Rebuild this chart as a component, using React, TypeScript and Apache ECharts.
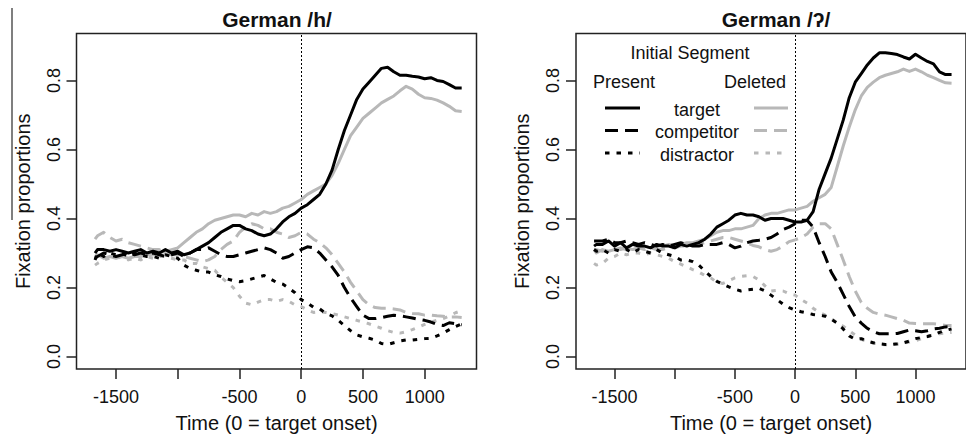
import React, { useEffect, useRef } from "react";
import * as echarts from "echarts";

// time points (ms, 0 = target onset)
const times = [
  -1670, -1650, -1600, -1550, -1500, -1450, -1400, -1350, -1300, -1250,
  -1200, -1150, -1100, -1050, -1000, -950, -900, -850, -800, -750,
  -700, -650, -600, -550, -500, -450, -400, -350, -300, -250,
  -200, -150, -100, -50, 0, 50, 100, 150, 200, 250,
  300, 350, 400, 450, 500, 550, 600, 650, 700, 750,
  800, 850, 900, 950, 1000, 1050, 1100, 1150, 1200, 1250,
  1300,
];

// German /h/ panel
const hTargetPresent = [
  0.30, 0.31, 0.31, 0.305, 0.31, 0.305, 0.30, 0.305, 0.31, 0.30,
  0.305, 0.30, 0.31, 0.30, 0.305, 0.295, 0.30, 0.31, 0.32, 0.33,
  0.345, 0.36, 0.37, 0.38, 0.38, 0.37, 0.365, 0.355, 0.35, 0.355,
  0.37, 0.39, 0.405, 0.415, 0.43, 0.44, 0.455, 0.47, 0.50, 0.54,
  0.60, 0.655, 0.70, 0.745, 0.775, 0.795, 0.815, 0.835, 0.838, 0.825,
  0.815, 0.815, 0.812, 0.81, 0.805, 0.808, 0.80, 0.797, 0.788, 0.778,
  0.778,
];
const hTargetDeleted = [
  0.29, 0.295, 0.285, 0.29, 0.285, 0.29, 0.285, 0.29, 0.29, 0.295,
  0.295, 0.30, 0.305, 0.31, 0.315, 0.33, 0.345, 0.36, 0.37, 0.385,
  0.395, 0.40, 0.405, 0.41, 0.41, 0.405, 0.415, 0.41, 0.42, 0.415,
  0.42, 0.43, 0.435, 0.445, 0.455, 0.47, 0.48, 0.49, 0.50, 0.525,
  0.56, 0.60, 0.64, 0.665, 0.69, 0.705, 0.72, 0.735, 0.745, 0.755,
  0.77, 0.783, 0.775, 0.76, 0.75, 0.748, 0.743, 0.735, 0.725, 0.712,
  0.71,
];
const hCompetitorPresent = [
  0.285, 0.29, 0.30, 0.295, 0.29, 0.295, 0.30, 0.295, 0.30, 0.295,
  0.30, 0.295, 0.29, 0.295, 0.30, 0.29, 0.30, 0.31, 0.31, 0.315,
  0.305, 0.295, 0.29, 0.29, 0.295, 0.30, 0.305, 0.31, 0.315, 0.31,
  0.30, 0.285, 0.29, 0.30, 0.31, 0.318, 0.315, 0.30, 0.28, 0.26,
  0.235, 0.20, 0.17, 0.145, 0.12, 0.11, 0.11, 0.113, 0.117, 0.12,
  0.118, 0.115, 0.112, 0.108, 0.105, 0.10, 0.093, 0.09, 0.098, 0.095,
  0.092,
];
const hCompetitorDeleted = [
  0.34, 0.35, 0.36, 0.345, 0.335, 0.34, 0.33, 0.325, 0.32, 0.315,
  0.31, 0.31, 0.30, 0.295, 0.295, 0.29, 0.285, 0.28, 0.275, 0.28,
  0.29, 0.31, 0.325, 0.335, 0.36, 0.375, 0.385, 0.38, 0.37, 0.37,
  0.36, 0.355, 0.345, 0.35, 0.36, 0.355, 0.34, 0.33, 0.315, 0.295,
  0.27, 0.245, 0.215, 0.19, 0.165, 0.15, 0.142, 0.14, 0.14, 0.138,
  0.135, 0.128, 0.125, 0.124, 0.12, 0.12, 0.118, 0.117, 0.115, 0.115,
  0.113,
];
const hDistractorPresent = [
  0.28, 0.30, 0.29, 0.30, 0.295, 0.30, 0.29, 0.30, 0.295, 0.29,
  0.29, 0.285, 0.295, 0.29, 0.285, 0.265, 0.255, 0.25, 0.245, 0.245,
  0.237, 0.232, 0.225, 0.22, 0.217, 0.22, 0.225, 0.23, 0.235, 0.225,
  0.215, 0.21, 0.198, 0.185, 0.165, 0.155, 0.143, 0.138, 0.125, 0.118,
  0.105, 0.09, 0.075, 0.063, 0.057, 0.053, 0.048, 0.038, 0.035, 0.04,
  0.045, 0.048, 0.048, 0.05, 0.052, 0.053, 0.06, 0.068, 0.078, 0.087,
  0.095,
];
const hDistractorDeleted = [
  0.265, 0.27, 0.28, 0.285, 0.29, 0.285, 0.28, 0.285, 0.28, 0.29,
  0.285, 0.29, 0.29, 0.285, 0.28, 0.28, 0.27, 0.27, 0.26, 0.255,
  0.25, 0.23, 0.215, 0.20, 0.175, 0.155, 0.15, 0.158, 0.165, 0.165,
  0.16, 0.165, 0.16, 0.15, 0.145, 0.135, 0.128, 0.13, 0.128, 0.125,
  0.12, 0.115, 0.11, 0.105, 0.10, 0.095, 0.088, 0.082, 0.075, 0.07,
  0.068, 0.072, 0.078, 0.085, 0.093, 0.10, 0.105, 0.11, 0.118, 0.127,
  0.133,
];

// German /ʔ/ panel
const gTargetPresent = [
  0.32, 0.325, 0.325, 0.335, 0.32, 0.33, 0.315, 0.325, 0.32, 0.32,
  0.315, 0.325, 0.32, 0.32, 0.315, 0.325, 0.32, 0.325, 0.33, 0.34,
  0.355, 0.375, 0.385, 0.395, 0.41, 0.415, 0.41, 0.41, 0.405, 0.395,
  0.40, 0.40, 0.40, 0.395, 0.39, 0.39, 0.395, 0.42, 0.485, 0.53,
  0.575, 0.63, 0.685, 0.75, 0.795, 0.82, 0.845, 0.865, 0.88, 0.88,
  0.878, 0.875, 0.868, 0.862, 0.876, 0.865, 0.855, 0.848, 0.825, 0.817,
  0.817,
];
const gTargetDeleted = [
  0.31, 0.30, 0.31, 0.305, 0.31, 0.31, 0.315, 0.31, 0.315, 0.32,
  0.315, 0.32, 0.32, 0.325, 0.32, 0.325, 0.33, 0.33, 0.335, 0.34,
  0.35, 0.36, 0.365, 0.365, 0.37, 0.37, 0.375, 0.38, 0.40, 0.41,
  0.415, 0.415, 0.42, 0.425, 0.425, 0.43, 0.435, 0.45, 0.46, 0.47,
  0.49, 0.55, 0.61, 0.665, 0.715, 0.755, 0.78, 0.795, 0.808, 0.815,
  0.82, 0.825, 0.833, 0.826, 0.833, 0.825, 0.815, 0.808, 0.80, 0.793,
  0.792,
];
const gCompetitorPresent = [
  0.335, 0.335, 0.335, 0.34, 0.33, 0.33, 0.335, 0.33, 0.325, 0.33,
  0.325, 0.32, 0.325, 0.32, 0.325, 0.33, 0.325, 0.32, 0.32, 0.325,
  0.325, 0.325, 0.33, 0.325, 0.315, 0.32, 0.33, 0.335, 0.337, 0.34,
  0.345, 0.355, 0.368, 0.375, 0.385, 0.395, 0.395, 0.375, 0.33, 0.29,
  0.245, 0.215, 0.18, 0.145, 0.115, 0.097, 0.082, 0.072, 0.066, 0.066,
  0.066, 0.067, 0.072, 0.077, 0.075, 0.072, 0.075, 0.08, 0.082, 0.086,
  0.087,
];
const gCompetitorDeleted = [
  0.31, 0.31, 0.305, 0.31, 0.31, 0.315, 0.31, 0.31, 0.315, 0.31,
  0.315, 0.31, 0.31, 0.315, 0.315, 0.32, 0.32, 0.325, 0.325, 0.33,
  0.335, 0.34, 0.345, 0.345, 0.34, 0.335, 0.33, 0.322, 0.318, 0.31,
  0.305, 0.31, 0.32, 0.333, 0.338, 0.345, 0.355, 0.375, 0.385, 0.385,
  0.37, 0.325, 0.28, 0.232, 0.19, 0.157, 0.14, 0.128, 0.123, 0.12,
  0.115, 0.11, 0.105, 0.097, 0.096, 0.095, 0.095, 0.095, 0.093, 0.09,
  0.09,
];
const gDistractorPresent = [
  0.31, 0.305, 0.31, 0.30, 0.31, 0.305, 0.31, 0.30, 0.31, 0.305,
  0.30, 0.31, 0.30, 0.295, 0.29, 0.28, 0.28, 0.275, 0.265, 0.248,
  0.232, 0.218, 0.21, 0.202, 0.195, 0.19, 0.193, 0.195, 0.198, 0.19,
  0.178, 0.165, 0.152, 0.142, 0.135, 0.13, 0.126, 0.122, 0.12, 0.117,
  0.108, 0.097, 0.08, 0.06, 0.05, 0.052, 0.045, 0.04, 0.037, 0.035,
  0.035, 0.037, 0.04, 0.045, 0.052, 0.055, 0.058, 0.063, 0.07, 0.076,
  0.08,
];
const gDistractorDeleted = [
  0.27, 0.265, 0.27, 0.285, 0.29, 0.30, 0.295, 0.30, 0.30, 0.295,
  0.30, 0.295, 0.29, 0.285, 0.275, 0.268, 0.26, 0.252, 0.245, 0.235,
  0.228, 0.215, 0.212, 0.22, 0.228, 0.232, 0.234, 0.232, 0.222, 0.205,
  0.19, 0.192, 0.19, 0.182, 0.178, 0.165, 0.155, 0.14, 0.128, 0.12,
  0.11, 0.098, 0.088, 0.075, 0.062, 0.05, 0.043, 0.039, 0.036, 0.034,
  0.034, 0.036, 0.039, 0.042, 0.046, 0.052, 0.058, 0.063, 0.066, 0.068,
  0.07,
];

const xTicks = [-1500, -1000, -500, 0, 500, 1000];
const xTickLabels = [-1500, -500, 0, 500, 1000];
const yTicks = [0, 0.2, 0.4, 0.6, 0.8];
const panelTitles = ["German /h/", "German /ʔ/"];
const xTitle = "Time (0 = target onset)";
const yTitle = "Fixation proportions";

const FONT = "'Liberation Sans', Arial, Helvetica, sans-serif";
const BLACK = "#000000";
const GREY = "#b8b8b8";
const DASH = [13, 7];
const DOT = [4.5, 7];

export default function App() {
  const ref = useRef<HTMLDivElement>(null);

  useEffect(() => {
    document.body.style.margin = "0";
    if (!ref.current) return;
    const chart = echarts.init(ref.current, undefined, { renderer: "svg" });

    const pair = (vals: number[]) => times.map((t, i) => [t, vals[i]]);

    const panels = [
      [hTargetPresent, hCompetitorPresent, hDistractorPresent, hTargetDeleted, hCompetitorDeleted, hDistractorDeleted],
      [gTargetPresent, gCompetitorPresent, gDistractorPresent, gTargetDeleted, gCompetitorDeleted, gDistractorDeleted],
    ];

    const series: any[] = [];
    panels.forEach((p, pi) => {
      const [tp, cp, dp, td, cd, dd] = p;
      const defs = [
        { name: "target deleted", data: td, color: GREY, type: "solid" },
        { name: "competitor deleted", data: cd, color: GREY, type: DASH },
        { name: "distractor deleted", data: dd, color: GREY, type: DOT },
        { name: "target present", data: tp, color: BLACK, type: "solid" },
        { name: "competitor present", data: cp, color: BLACK, type: DASH },
        { name: "distractor present", data: dp, color: BLACK, type: DOT },
      ];
      defs.forEach((d, di) => {
        const s: any = {
          type: "line",
          name: d.name,
          xAxisIndex: pi,
          yAxisIndex: pi,
          data: pair(d.data),
          showSymbol: false,
          symbol: "none",
          lineStyle: { color: d.color, width: 3, type: d.type, cap: "butt", join: "round" },
          silent: true,
          z: 2,
        };
        if (di === 0) {
          s.markLine = {
            silent: true,
            symbol: "none",
            label: { show: false },
            lineStyle: { color: "#000", width: 1, type: [2, 2] },
            data: [{ xAxis: 0 }],
            z: 1,
          };
        }
        series.push(s);
      });
    });

    const gridLefts = [76.5, 576];
    const grids = gridLefts.map((l) => ({
      left: l,
      top: 33.5,
      width: 400,
      height: 335.5,
      show: true,
      borderColor: "#222",
      borderWidth: 1.5,
      backgroundColor: "transparent",
      containLabel: false,
    }));

    const xAxes = gridLefts.map((_, i) => ({
      type: "value",
      gridIndex: i,
      position: "bottom",
      min: -1820,
      max: 1420,
      axisLine: { show: false, onZero: false },
      splitLine: { show: false },
      axisTick: {
        show: true,
        customValues: xTicks,
        length: 10,
        lineStyle: { color: "#222", width: 1.5 },
      },
      axisLabel: {
        customValues: xTickLabels,
        fontSize: 18,
        fontFamily: FONT,
        color: "#111",
        margin: 19,
        formatter: (v: number) => String(v),
      },
      name: xTitle,
      nameLocation: "middle",
      nameGap: 44,
      nameTextStyle: { fontSize: 20, fontFamily: FONT, color: "#111" },
    }));

    const yAxes = gridLefts.map((_, i) => ({
      type: "value",
      gridIndex: i,
      position: "left",
      min: -0.036,
      max: 0.936,
      axisLine: { show: false, onZero: false },
      splitLine: { show: false },
      axisTick: {
        show: true,
        customValues: yTicks,
        length: 10,
        lineStyle: { color: "#222", width: 1.5 },
      },
      axisLabel: {
        customValues: yTicks,
        rotate: 90,
        fontSize: 18,
        fontFamily: FONT,
        color: "#111",
        margin: 14,
        formatter: (v: number) => v.toFixed(1),
      },
      name: yTitle,
      nameLocation: "middle",
      nameGap: 44,
      nameTextStyle: { fontSize: 20, fontFamily: FONT, color: "#111" },
    }));

    const txt = (text: string, x: number, y: number, align: string, size = 18, weight = "normal") => ({
      type: "text",
      x,
      y,
      silent: true,
      style: {
        text,
        fontSize: size,
        fontFamily: FONT,
        fontWeight: weight,
        fill: "#111",
        align,
        verticalAlign: "middle",
      },
    });
    const seg = (x1: number, x2: number, y: number, color: string, dash: any) => ({
      type: "line",
      silent: true,
      shape: { x1, y1: y, x2, y2: y },
      style: { stroke: color, lineWidth: 3, lineDash: dash, lineCap: "butt" },
    });

    const graphic: any[] = [
      txt(panelTitles[0], 277, 19, "center", 21, "bold"),
      txt(panelTitles[1], 776, 19, "center", 21, "bold"),
      // legend (right panel)
      txt("Initial Segment", 690, 53, "center"),
      txt("Present", 593, 82, "left"),
      txt("Deleted", 786, 82, "right"),
      seg(605, 640, 108, BLACK, null),
      seg(605, 640, 130.5, BLACK, DASH),
      seg(605, 640, 153, BLACK, DOT),
      seg(754, 788, 108, GREY, null),
      seg(754, 788, 130.5, GREY, DASH),
      seg(754, 788, 153, GREY, DOT),
      txt("target", 697, 110, "center"),
      txt("competitor", 697, 132, "center"),
      txt("distractor", 697, 154.5, "center"),
      // stray vertical stroke at top left
      {
        type: "line",
        silent: true,
        shape: { x1: 12, y1: 8, x2: 12, y2: 220 },
        style: { stroke: "#555", lineWidth: 1.5 },
      },
    ];

    chart.setOption({
      animation: false,
      backgroundColor: "#ffffff",
      grid: grids,
      xAxis: xAxes,
      yAxis: yAxes,
      series,
      graphic,
    });

    return () => chart.dispose();
  }, []);

  return <div ref={ref} style={{ width: 966, height: 439, overflow: "hidden" }} />;
}
